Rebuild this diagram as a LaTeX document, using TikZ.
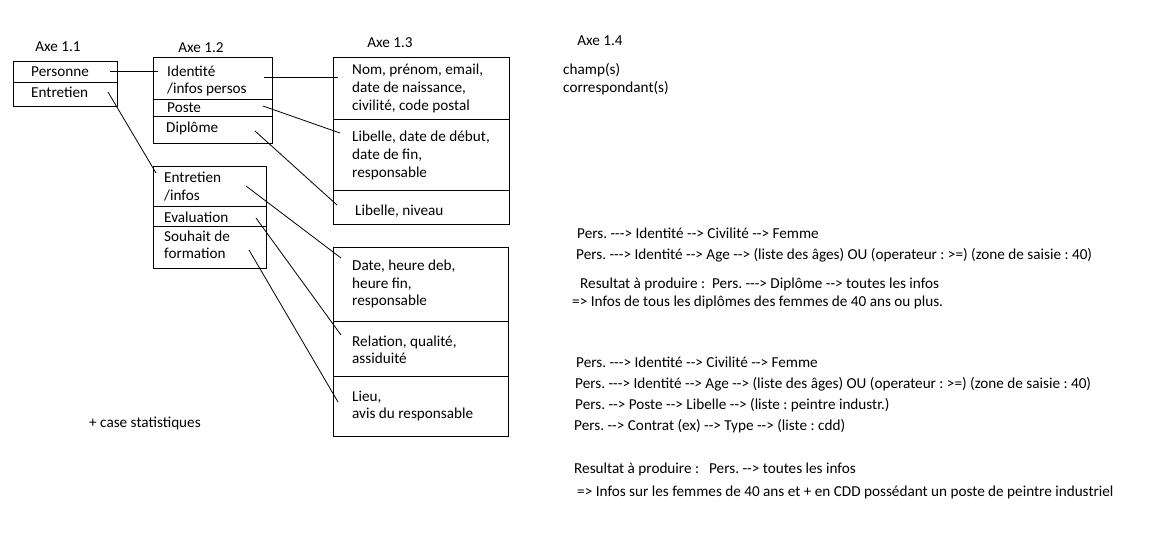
\documentclass[tikz,border=0pt]{standalone}
\usepackage{fontspec}
\setmainfont{Carlito}[Ligatures=TeXOff]
\frenchspacing
\begin{document}
\begin{tikzpicture}[x=1pt,y=-1pt,
  txt/.style={anchor=base west,inner sep=0pt,font=\fontsize{15.2}{18}\selectfont},
  axe/.style={anchor=base,inner sep=0pt,font=\fontsize{15.2}{18}\selectfont},
  boxline/.style={draw=black,line width=1pt},
  link/.style={draw=black,line width=0.8pt}]
\useasboundingbox[fill=white] (0,0) rectangle (1161,533);

% column headings
\node[axe] (h11) at (58,51) {Axe 1.1};
\node[axe] (h12) at (201,52) {Axe 1.2};
\node[axe] (h13) at (390,47) {Axe 1.3};
\node[axe] (h14) at (600,45) {Axe 1.4};

% axis 1.1 box
\draw[boxline] (13,61) rectangle (117,106);
\draw[boxline] (13,82) -- (117,82);
\node[txt] (personne) at (31,76) {Personne};
\node[txt] (entretien) at (31,97) {Entretien};

% axis 1.2 : person box
\draw[boxline] (153,57) rectangle (272,143);
\draw[boxline] (153,99) -- (272,99);
\draw[boxline] (153,116) -- (272,116);
\node[txt] (identite) at (167,76) {Identité};
\node[txt] (infosperso) at (167,93) {/infos persos};
\node[txt] (poste) at (167,112) {Poste};
\node[txt] (diplome) at (166,132) {Diplôme};

% axis 1.2 : interview box
\draw[boxline] (153,166) rectangle (266,268);
\draw[boxline] (153,206) -- (266,206);
\draw[boxline] (153,226) -- (266,226);
\node[txt] (entinfos) at (164,182) {Entretien};
\node[txt] (entinfos2) at (164,200) {/infos};
\node[txt] (evaluation) at (164,222) {Evaluation};
\node[txt] (souhait) at (164,241) {Souhait de};
\node[txt] (souhait2) at (164,258) {formation};

% axis 1.3 : person fields
\draw[boxline] (333,57) rectangle (509,224);
\draw[boxline] (333,119) -- (509,119);
\draw[boxline] (333,190) -- (509,190);
\node[txt] (nom) at (352,74) {Nom, prénom, email,};
\node[txt] (nom2) at (352,92) {date de naissance,};
\node[txt] (nom3) at (352,110) {civilité, code postal};
\node[txt] (libposte) at (352,141) {Libelle, date de début,};
\node[txt] (libposte2) at (352,159) {date de fin,};
\node[txt] (libposte3) at (352,177) {responsable};
\node[txt] (libdipl) at (355,215) {Libelle, niveau};

% axis 1.3 : interview fields
\draw[boxline] (333,247) rectangle (508,436);
\draw[boxline] (333,321) -- (508,321);
\draw[boxline] (333,376) -- (508,376);
\node[txt] (date) at (352,270) {Date, heure deb,};
\node[txt] (date2) at (352,288) {heure fin,};
\node[txt] (date3) at (352,305) {responsable};
\node[txt] (relation) at (352,346) {Relation, qualité,};
\node[txt] (relation2) at (352,363) {assiduité};
\node[txt] (lieu) at (352,401) {Lieu,};
\node[txt] (lieu2) at (352,418) {avis du responsable};

% axis 1.4
\node[txt] (champ) at (563,74) {champ(s)};
\node[txt] (corresp) at (563,92) {correspondant(s)};

\node[txt] (stats) at (89,427) {+ case statistiques};

% link end points
\coordinate (p1a) at (110,71);  \coordinate (p1b) at (158,71);
\coordinate (p2a) at (108,92);  \coordinate (p2b) at (156,173);
\coordinate (p3a) at (264,77);  \coordinate (p3b) at (338,77);
\coordinate (p4a) at (263,106); \coordinate (p4b) at (340,133);
\coordinate (p5a) at (255,131); \coordinate (p5b) at (337,205);
\coordinate (p6a) at (246,186); \coordinate (p6b) at (341,258);
\coordinate (p7a) at (256,218); \coordinate (p7b) at (341,335);
\coordinate (p8a) at (249,250); \coordinate (p8b) at (338,402);
\foreach \i in {1,...,8} \draw[link] (p\i a) -- (p\i b);

% query examples
\node[txt] (q1) at (577,238) {Pers. ---> Identité --> Civilité --> Femme};
\node[txt] (q2) at (576,259) {Pers. ---> Identité --> Age --> (liste des âges) OU (operateur : >=) (zone de saisie : 40)};
\node[txt] (q3) at (580,288) {Resultat à produire :\hspace{7pt}Pers. ---> Diplôme --> toutes les infos};
\node[txt] (q4) at (572,306) {=> Infos de tous les diplômes des femmes de 40 ans ou plus.};

\node[txt] (r1) at (576,367) {Pers. ---> Identité --> Civilité --> Femme};
\node[txt] (r2) at (575,388) {Pers. ---> Identité --> Age --> (liste des âges) OU (operateur : >=) (zone de saisie : 40)};
\node[txt] (r3) at (575,409) {Pers. --> Poste --> Libelle --> (liste : peintre industr.)};
\node[txt] (r4) at (574,430) {Pers. --> Contrat (ex) --> Type --> (liste : cdd)};
\node[txt] (r5) at (574,473) {Resultat à produire :\hspace{10pt}Pers. --> toutes les infos};
\node[txt] (r6) at (577,496) {=> Infos sur les femmes de 40 ans et + en CDD possédant un poste de peintre industriel};
\end{tikzpicture}
\end{document}
